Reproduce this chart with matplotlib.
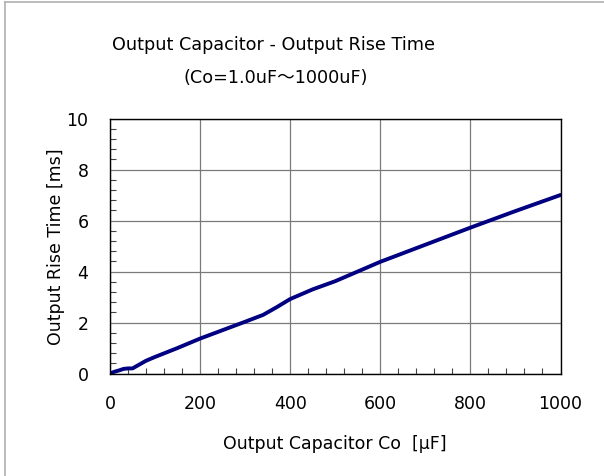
import matplotlib.pyplot as plt
from matplotlib.lines import Line2D
from matplotlib.ticker import MultipleLocator

# output capacitance [uF] vs output rise time [ms]
cap_uf = [0, 10, 20, 30, 40, 50, 60, 80, 100, 150, 200, 250, 300, 340, 370,
          400, 450, 500, 600, 700, 800, 900, 1000]
rise_ms = [0.0, 0.07, 0.12, 0.18, 0.2, 0.2, 0.3, 0.5, 0.65, 1.0, 1.37, 1.7,
           2.03, 2.3, 2.6, 2.92, 3.3, 3.62, 4.38, 5.05, 5.72, 6.37, 7.0]

plt.rcParams['font.family'] = ['DejaVu Sans', 'Noto Sans CJK JP']

W, H = 604, 477
fig = plt.figure(figsize=(W / 100, H / 100), dpi=100)
ax = fig.add_axes([110 / W, 1 - 374.5 / H, 450.5 / W, 255 / H])

ax.plot(cap_uf, rise_ms, color='#000080', lw=2.8, solid_capstyle='round')

ax.set_xlim(0, 1000)
ax.set_ylim(0, 10)
ax.xaxis.set_major_locator(MultipleLocator(200))
ax.xaxis.set_minor_locator(MultipleLocator(40))
ax.yaxis.set_major_locator(MultipleLocator(2))
ax.yaxis.set_minor_locator(MultipleLocator(0.4))
ax.tick_params(which='major', direction='in', length=0, labelsize=12.5)
ax.tick_params(axis='x', which='major', pad=14.5)
ax.tick_params(axis='y', which='major', pad=15.5)
ax.tick_params(which='minor', direction='in', length=4, width=0.8, color='#444444')
ax.grid(True, which='major', color='#7a7a7a', lw=0.9)
for s in ax.spines.values():
    s.set_linewidth(1.0)

ax.set_xlabel('Output Capacitor Co  [μF]', fontsize=12.5, labelpad=16)
ax.set_ylabel('Output Rise Time [ms]', fontsize=12.5, labelpad=1)

fig.text(273 / W, 1 - 45 / H, 'Output Capacitor - Output Rise Time',
         ha='center', va='center', fontsize=12.7)
fig.text(276 / W, 1 - 78 / H, '(Co=1.0uF～1000uF)', ha='center', va='center', fontsize=12.7)

# thin frame around the chart area
fig.add_artist(Line2D([5 / W, 5 / W], [0, 1 - 3 / H], color='#b0b0b0', lw=1.2))
fig.add_artist(Line2D([5 / W, 1], [1 - 3 / H, 1 - 3 / H], color='#b0b0b0', lw=1.2))

fig.savefig('out.png', dpi=100)
